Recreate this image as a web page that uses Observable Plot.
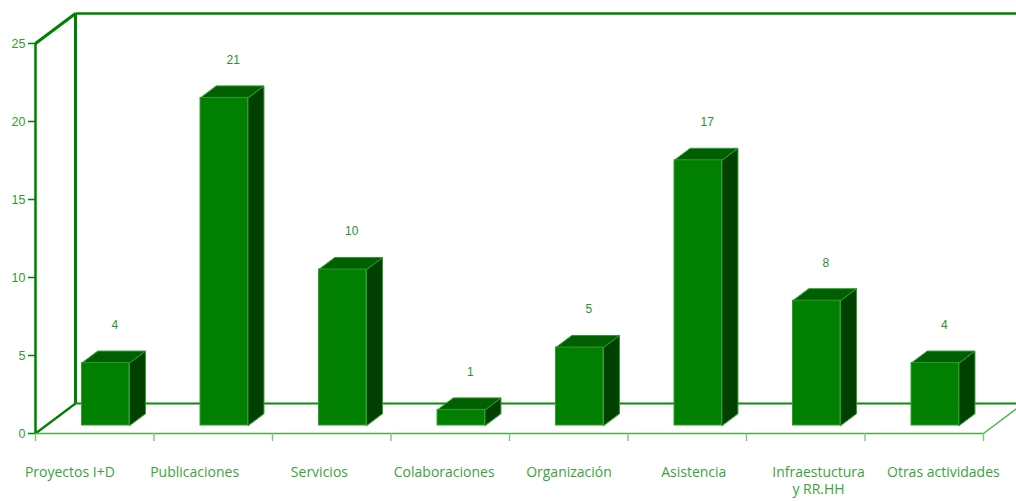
<!DOCTYPE html>
<html>
<head>
<meta charset="utf-8">
<script src="https://cdn.jsdelivr.net/npm/d3@7"></script>
<script src="https://cdn.jsdelivr.net/npm/@observablehq/plot@0.6"></script>
<style>
  html, body { margin: 0; padding: 0; background: #ffffff; }
  #chart svg { display: block; }
</style>
</head>
<body>
<div id="chart"></div>
<script>
// ---- data ----
const categories = ["Proyectos I+D", "Publicaciones", "Servicios", "Colaboraciones", "Organización", "Asistencia", "Infraestuctura\ny RR.HH", "Otras actividades"];
const values = [4, 21, 10, 1, 5, 17, 8, 4];
const yTicks = [0, 5, 10, 15, 20, 25];

// ---- layout ----
const W = 1016, H = 501;
const mL = 35, mR = 33, mT = 43, mB = 68;
const n = categories.length;
const yMax = 25;
const pxX = n / (W - mL - mR);        // data units per pixel (x)
const pxY = yMax / (H - mT - mB);     // data units per pixel (y)
const wallDX = 40 * pxX, wallDY = 30 * pxY;   // depth of the 3D box
const barW = 0.4;                              // fraction of band
const barSX = 11 * pxX, barSY = 8 * pxY;       // bar placement inside depth
const barDX = 16 * pxX, barDY = 12 * pxY;      // bar depth
const labelStart = 0.29, labelStep = 1.053;    // spread of category labels

const dark = "#008000", light = "#47ad47", edge = "#2f9a2f";
const cFront = "#007f00", cTop = "#005f00", cSide = "#004000";
const txt = "#2f9d2f";

const bars = values.map((v, i) => {
  const x1 = i + 0.5 - barW / 2 + barSX, x2 = i + 0.5 + barW / 2 + barSX;
  const y1 = barSY, y2 = v + barSY;
  return {i, v, x1, x2, y1, y2};
});
const topPts = bars.flatMap(b => [
  {id: b.i, x: b.x1, y: b.y2}, {id: b.i, x: b.x2, y: b.y2},
  {id: b.i, x: b.x2 + barDX, y: b.y2 + barDY}, {id: b.i, x: b.x1 + barDX, y: b.y2 + barDY}
]);
const sidePts = bars.flatMap(b => [
  {id: b.i, x: b.x2, y: b.y1}, {id: b.i, x: b.x2, y: b.y2},
  {id: b.i, x: b.x2 + barDX, y: b.y2 + barDY}, {id: b.i, x: b.x2 + barDX, y: b.y1 + barDY}
]);
const bandEdges = d3.range(n + 1);

const chart = Plot.plot({
  width: W, height: H,
  marginLeft: mL, marginRight: mR, marginTop: mT, marginBottom: mB,
  x: {domain: [0, n], axis: null},
  y: {domain: [0, yMax], axis: null},
  style: {background: "#ffffff", overflow: "hidden"},
  marks: [
    // back wall and floor of the 3D box
    Plot.link([{x1: wallDX, y1: wallDY, x2: n + wallDX, y2: wallDY}], {x1: "x1", y1: "y1", x2: "x2", y2: "y2", stroke: "#128a12", strokeWidth: 2.2}),
    Plot.link([{x1: 0, y1: 0, x2: wallDX, y2: wallDY}], {x1: "x1", y1: "y1", x2: "x2", y2: "y2", stroke: dark, strokeWidth: 2.2}),
    Plot.link([{x1: wallDX, y1: wallDY, x2: wallDX, y2: yMax + wallDY}], {x1: "x1", y1: "y1", x2: "x2", y2: "y2", stroke: dark, strokeWidth: 3}),
    Plot.link([{x1: 0, y1: yMax, x2: wallDX, y2: yMax + wallDY}], {x1: "x1", y1: "y1", x2: "x2", y2: "y2", stroke: dark, strokeWidth: 3}),
    Plot.link([{x1: wallDX, y1: yMax + wallDY, x2: n + wallDX, y2: yMax + wallDY}], {x1: "x1", y1: "y1", x2: "x2", y2: "y2", stroke: dark, strokeWidth: 2.5}),
    // front floor edge
    Plot.link([{x1: 0, y1: 0, x2: n, y2: 0}], {x1: "x1", y1: "y1", x2: "x2", y2: "y2", stroke: light, strokeWidth: 1.6}),
    Plot.link([{x1: n, y1: 0, x2: n + wallDX, y2: wallDY}], {x1: "x1", y1: "y1", x2: "x2", y2: "y2", stroke: light, strokeWidth: 1.4}),
    Plot.ruleX(bandEdges, {x: d => d, y1: 0, y2: -8 * pxY, stroke: "#7cc47c", strokeWidth: 1.4}),
    // front y axis
    Plot.ruleX([0], {y1: 0, y2: yMax, stroke: dark, strokeWidth: 2.5}),
    Plot.axisY({ticks: yTicks, tickSize: 7, tickPadding: 3, stroke: dark, color: txt, fontSize: 12.5, fontFamily: "Liberation Sans, Arial, sans-serif", strokeWidth: 1.5}),
    // bars
    Plot.line(sidePts, {x: "x", y: "y", z: "id", curve: "linear-closed", fill: cSide, stroke: edge, strokeWidth: 1}),
    Plot.line(topPts, {x: "x", y: "y", z: "id", curve: "linear-closed", fill: cTop, stroke: edge, strokeWidth: 1}),
    Plot.rect(bars, {x1: "x1", x2: "x2", y1: "y1", y2: "y2", fill: cFront, stroke: edge, strokeWidth: 1}),
    // value labels
    Plot.text(bars, {x: d => d.i + 0.5, y: "v", text: d => String(d.v), dx: 20, dy: -46, fill: "#2a922a", fontSize: 12, fontFamily: "Liberation Sans, Arial, sans-serif"}),
    // category labels
    Plot.text(categories, {x: (d, i) => labelStart + i * labelStep, text: d => d, frameAnchor: "bottom", lineAnchor: "top", dy: 31, lineHeight: 1.25, fill: "#3aa33a", fontSize: 14, fontFamily: "Open Sans, sans-serif"})
  ]
});
document.getElementById("chart").appendChild(chart);
</script>
</body>
</html>
